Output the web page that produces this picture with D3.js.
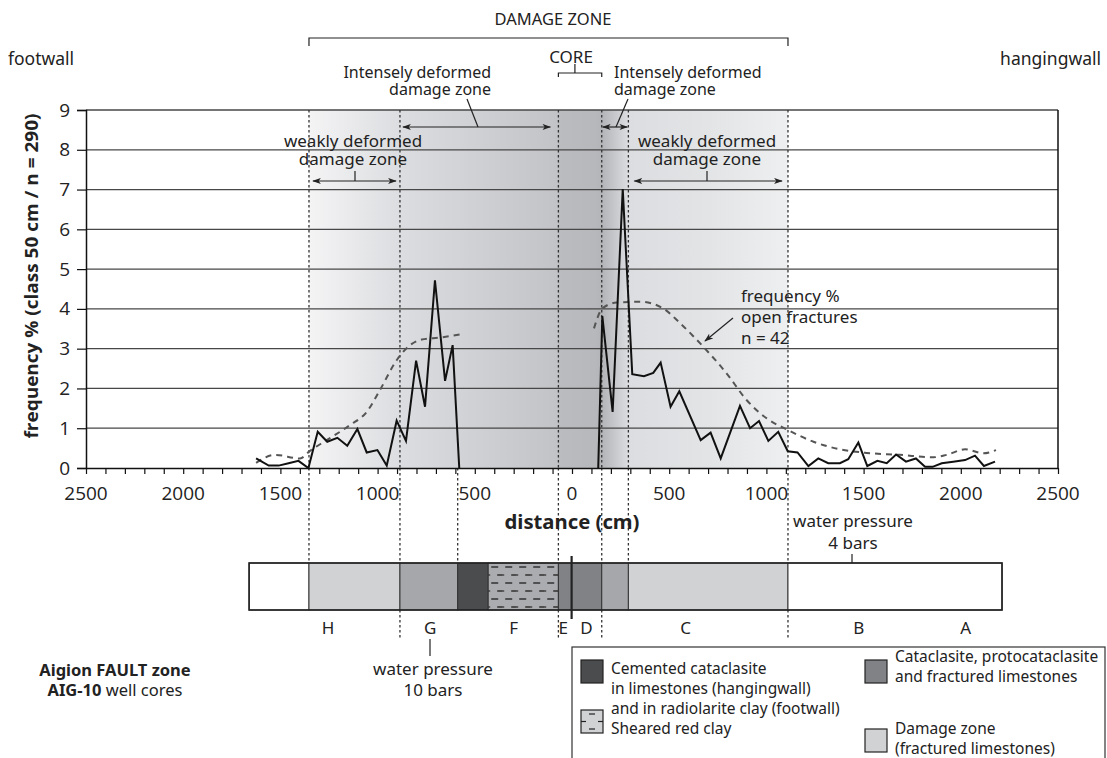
<!DOCTYPE html>
<html>
<head>
<meta charset="utf-8">
<script src="https://cdn.jsdelivr.net/npm/d3@7"></script>
<style>
  html, body { margin: 0; padding: 0; background: #fff; }
  svg { display: block; }
  text { font-family: "Noto Sans", "Open Sans", sans-serif; fill: #222; }
</style>
</head>
<body>
<svg id="chart" width="1107" height="758"></svg>
<script>
// ---------- DATA ----------
// fracture frequency (solid), footwall side (negative = footwall distance in cm)
const solidLeftDist = [-1625,-1560,-1509,-1458,-1407,-1356,-1308,-1259,-1207,-1156,-1104,-1056,-1001,-953,-902,-854,-802,-756,-705,-653,-614,-580];
const solidLeftVal  = [0.24,0.06,0.06,0.12,0.18,0,0.91,0.66,0.76,0.56,0.98,0.39,0.45,0.06,1.19,0.68,2.70,1.54,4.72,2.19,3.09,0];
// fracture frequency (solid), hangingwall side
const solidRightDist = [135,156,209,261,310,370,418,456,507,552,662,713,765,864,916,962,1010,1061,1110,1160,1216,1267,1318,1378,1421,1473,1519,1571,1619,1667,1718,1769,1816,1855,1902,1961,2022,2073,2119,2176];
const solidRightVal  = [0,3.82,1.41,7.01,2.36,2.31,2.39,2.65,1.54,1.93,0.70,0.89,0.24,1.56,1.00,1.18,0.68,0.91,0.42,0.39,0.05,0.24,0.12,0.12,0.22,0.64,0.05,0.18,0.12,0.34,0.16,0.24,0.03,0.03,0.12,0.16,0.20,0.31,0.05,0.16];
// open fractures frequency (dashed)
const dashLeftDist = [-1625,-1528,-1399,-1348,-1262,-1142,-1056,-988,-902,-833,-773,-679,-562];
const dashLeftVal  = [0.13,0.33,0.24,0.43,0.70,1.08,1.41,1.96,2.71,3.09,3.23,3.28,3.37];
const dashRightDist = [113,156,230,350,470,556,675,795,898,1001,1113,1242,1378,1516,1687,1859,1927,2022,2116,2181];
const dashRightVal  = [3.51,4.01,4.16,4.18,4.01,3.64,3.05,2.38,1.71,1.25,0.95,0.66,0.47,0.38,0.33,0.27,0.33,0.47,0.37,0.45];

const yTicks = [0,1,2,3,4,5,6,7,8,9];
const xLabelTicks = [-2500,-2000,-1500,-1000,-500,0,500,1000,1500,2000,2500];

// zone boundaries (cm) used for the shaded areas, dotted lines and the core log
const zoneEdges = [-1661,-1353,-885,-588,-431,-70,153,290,1111,2212];
const zoneKinds = ["none","damage","fract","cement","clay","catacl","fract","damage","none"];
const zoneLetters = ["H","G","F","E","D","C","B","A"];
const zoneLetterPos = [-1255,-730,-300,-45,75,585,1475,2025];
const dottedInPlot = [-1353,-885,-70,153,290,1111];
const dottedBelowAxis = [-1353,-885,-588,-70,153,290,1111];
const dottedBelowLog = [-885,-70,153,1111];
const faultPlane = -2;

// ---------- SETUP ----------
const svg = d3.select("#chart");
const X0 = 86, X1 = 1058, YT = 110, YB = 468;
const x = d3.scaleLinear().domain([-2500, 2500]).range([X0, X1]);
const y = d3.scaleLinear().domain([0, 9]).range([YB, YT]);

const colors = { none: "#ffffff", damage: "#d1d2d4", fract: "#a6a7aa", cement: "#4b4c4e", clay: "#abacaf", catacl: "#808285" };

const defs = svg.append("defs");
const g0 = x(-1353), g1 = x(1111);
const grad = defs.append("linearGradient").attr("id", "zoneGrad")
  .attr("gradientUnits", "userSpaceOnUse").attr("x1", g0).attr("x2", g1).attr("y1", 0).attr("y2", 0);
const off = d => (x(d) - g0) / (g1 - g0);
[[-1353, "#f4f4f5"], [-885, "#dcdde0"], [-70, "#c2c3c6"], [-70, "#bbbcbf"], [120, "#b7b8bb"], [153, "#b3b4b7"],
 [290, "#dcdde0"], [700, "#e3e4e6"], [1111, "#eeeff0"]].forEach(([d, c]) =>
  grad.append("stop").attr("offset", off(d)).attr("stop-color", c));

const pat = defs.append("pattern").attr("id", "clayPat").attr("patternUnits", "userSpaceOnUse")
  .attr("width", 14).attr("height", 16).attr("x", x(-431)).attr("y", 563);
pat.append("rect").attr("width", 14).attr("height", 16).attr("fill", colors.clay);
pat.append("line").attr("x1", 3).attr("x2", 10).attr("y1", 4).attr("y2", 4).attr("stroke", "#111").attr("stroke-width", 1.2);
pat.append("line").attr("x1", 9).attr("x2", 16).attr("y1", 12).attr("y2", 12).attr("stroke", "#111").attr("stroke-width", 1.2);
pat.append("line").attr("x1", -5).attr("x2", 2).attr("y1", 12).attr("y2", 12).attr("stroke", "#111").attr("stroke-width", 1.2);

defs.append("marker").attr("id", "arrowEnd").attr("viewBox", "0 -4 10 8").attr("refX", 9).attr("refY", 0)
  .attr("markerWidth", 9).attr("markerHeight", 7).attr("markerUnits", "userSpaceOnUse").attr("orient", "auto-start-reverse")
  .append("path").attr("d", "M0,-3.5L10,0L0,3.5L2.5,0Z").attr("fill", "#222");

// ---------- SHADING ----------
svg.append("rect").attr("x", g0).attr("y", YT).attr("width", g1 - g0).attr("height", YB - YT).attr("fill", "url(#zoneGrad)");

// grid lines
svg.append("g").selectAll("line").data(yTicks.filter(t => t > 0)).join("line")
  .attr("x1", X0).attr("x2", X1).attr("y1", d => y(d)).attr("y2", d => y(d))
  .attr("stroke", "#474747").attr("stroke-width", 1.3);

// dotted lines
const dot = { stroke: "#333", "stroke-width": 1.3, "stroke-dasharray": "2.5,2.5" };
function dotted(sel) { Object.entries(dot).forEach(([k, v]) => sel.attr(k, v)); return sel; }
dotted(svg.append("g").selectAll("line").data(dottedInPlot).join("line")
  .attr("x1", d => x(d)).attr("x2", d => x(d)).attr("y1", YT).attr("y2", YB));
dotted(svg.append("g").selectAll("line").data(dottedBelowAxis).join("line")
  .attr("x1", d => x(d)).attr("x2", d => x(d)).attr("y1", YB).attr("y2", 563));
dotted(svg.append("g").selectAll("line").data(dottedBelowLog).join("line")
  .attr("x1", d => x(d)).attr("x2", d => x(d)).attr("y1", 610).attr("y2", 640));

// ---------- AXES ----------
const yAxis = d3.axisLeft(y).tickValues(yTicks).tickSize(9).tickPadding(7).tickFormat(d3.format("d"));
const gy = svg.append("g").attr("transform", `translate(${X0},0)`).call(yAxis);
gy.select(".domain").attr("stroke", "#111").attr("stroke-width", 1.5);
gy.selectAll(".tick line").attr("stroke", "#111").attr("stroke-width", 1.2);
gy.selectAll(".tick text").style("font-family", "'Open Sans', sans-serif").style("font-size", "19px").attr("fill", "#222");

const xAxis = d3.axisBottom(x).tickValues(d3.range(-2500, 2501, 100)).tickSize(6).tickSizeOuter(0).tickFormat("");
const gx = svg.append("g").attr("transform", `translate(0,${YB})`).call(xAxis);
gx.select(".domain").attr("stroke", "#111").attr("stroke-width", 1.6);
gx.selectAll(".tick line").attr("stroke", "#111").attr("stroke-width", 1.2);
svg.append("g").selectAll("text").data(xLabelTicks).join("text")
  .attr("x", d => x(d)).attr("y", 493).attr("text-anchor", "middle").attr("dominant-baseline", "central")
  .style("font-family", "'Open Sans', sans-serif").style("font-size", "19px").text(d => Math.abs(d));

// right frame
svg.append("line").attr("x1", X1).attr("x2", X1).attr("y1", YT).attr("y2", YB).attr("stroke", "#111").attr("stroke-width", 1.5);

// ---------- SERIES ----------
const lineLin = d3.line().x(d => x(d[0])).y(d => y(d[1]));
const lineSmooth = d3.line().x(d => x(d[0])).y(d => y(d[1])).curve(d3.curveMonotoneX);
const zip = (a, b) => a.map((v, i) => [v, b[i]]);
[zip(dashLeftDist, dashLeftVal), zip(dashRightDist, dashRightVal)].forEach(pts =>
  svg.append("path").attr("d", lineSmooth(pts)).attr("fill", "none").attr("stroke", "#555")
    .attr("stroke-width", 2).attr("stroke-dasharray", "6,5"));
[zip(solidLeftDist, solidLeftVal), zip(solidRightDist, solidRightVal)].forEach(pts =>
  svg.append("path").attr("d", lineLin(pts)).attr("fill", "none").attr("stroke", "#111")
    .attr("stroke-width", 2).attr("stroke-linejoin", "miter"));

// ---------- ANNOTATIONS ----------
function txt(str, px, py, anchor, size, weight) {
  return svg.append("text").attr("x", px).attr("y", py).attr("text-anchor", anchor || "middle")
    .attr("dominant-baseline", "central").style("font-size", (size || 16) + "px")
    .style("font-weight", weight || "normal").text(str);
}
function seg(x1, y1, x2, y2, w) {
  return svg.append("line").attr("x1", x1).attr("y1", y1).attr("x2", x2).attr("y2", y2)
    .attr("stroke", "#222").attr("stroke-width", w || 1.2);
}
function dblArrow(xa, xb, yy) {
  seg(xa, yy, xb, yy).attr("marker-start", "url(#arrowEnd)").attr("marker-end", "url(#arrowEnd)");
}

txt("DAMAGE ZONE", 553, 18, "middle", 16.5);
svg.append("path").attr("d", `M${x(-1353)},46V38H${x(1111)}V46`).attr("fill", "none").attr("stroke", "#222").attr("stroke-width", 1.2);
txt("CORE", 571, 56, "middle", 17);
svg.append("path").attr("d", `M${x(-70)},77V73H${x(153)}V77M${x(15)},73V64`).attr("fill", "none").attr("stroke", "#222").attr("stroke-width", 1.2);
txt("footwall", 8, 58, "start", 17.5);
txt("hangingwall", 1101, 58, "end", 17.5);

txt("Intensely deformed", 491, 72, "end", 16);
txt("damage zone", 491, 89, "end", 16);
txt("Intensely deformed", 614, 72, "start", 16);
txt("damage zone", 614, 89, "start", 16);
seg(467, 99, 478, 127);
dblArrow(403, x(-70) - 8, 127);
seg(628, 99, 616, 127);
dblArrow(x(153) + 1, x(290) - 1, 127);

txt("weakly deformed", 353, 140, "middle", 17);
txt("damage zone", 353, 158, "middle", 17);
dblArrow(x(-1353) + 4, x(-885) - 4, 181);
seg(355, 171, 355, 181);
txt("weakly deformed", 707, 140, "middle", 17);
txt("damage zone", 707, 158, "middle", 17);
dblArrow(x(290) + 6, x(1111) - 6, 181);
seg(707, 171, 707, 181);

txt("frequency %", 741, 295, "start", 17);
txt("open fractures", 741, 316, "start", 17);
txt("n = 42", 741, 337, "start", 17);
seg(733, 318, 705, 341).attr("marker-end", "url(#arrowEnd)");

svg.append("text").attr("transform", "translate(31,276) rotate(-90)").attr("text-anchor", "middle")
  .attr("dominant-baseline", "central").style("font-size", "18px").style("font-weight", "bold")
  .style("font-family", "'Open Sans', sans-serif")
  .attr("textLength", 325).attr("lengthAdjust", "spacingAndGlyphs")
  .text("frequency % (class 50 cm / n = 290)");
txt("distance (cm)", 572, 522, "middle", 19, "bold").attr("textLength", 135).attr("lengthAdjust", "spacingAndGlyphs");

// ---------- CORE LOG ----------
const LOG_T = 563, LOG_B = 610;
svg.append("g").selectAll("rect").data(zoneKinds).join("rect")
  .attr("x", (d, i) => x(zoneEdges[i])).attr("width", (d, i) => x(zoneEdges[i + 1]) - x(zoneEdges[i]))
  .attr("y", LOG_T).attr("height", LOG_B - LOG_T)
  .attr("fill", d => d === "clay" ? "url(#clayPat)" : colors[d]).attr("stroke", "#333").attr("stroke-width", 1);
svg.append("rect").attr("x", x(zoneEdges[0])).attr("y", LOG_T).attr("width", x(zoneEdges[zoneEdges.length - 1]) - x(zoneEdges[0]))
  .attr("height", LOG_B - LOG_T).attr("fill", "none").attr("stroke", "#222").attr("stroke-width", 1.6);
seg(x(faultPlane), 556, x(faultPlane), 619, 2.2);
svg.append("g").selectAll("text").data(zoneLetters).join("text")
  .attr("x", (d, i) => x(zoneLetterPos[i])).attr("y", 627).attr("text-anchor", "middle").attr("dominant-baseline", "central")
  .style("font-size", "17px").text(d => d);

txt("water pressure", 853, 520, "middle", 17);
txt("4 bars", 853, 542, "middle", 17);
seg(852, 554, 852, 563);
seg(430, 639, 430, 656);
txt("water pressure", 433, 668, "middle", 17);
txt("10 bars", 433, 689, "middle", 17);

txt("Aigion FAULT zone", 115, 669, "middle", 16.5, "bold");
const t2 = svg.append("text").attr("x", 115).attr("y", 689).attr("text-anchor", "middle").attr("dominant-baseline", "central").style("font-size", "16.5px");
t2.append("tspan").style("font-weight", "bold").text("AIG-10");
t2.append("tspan").text(" well cores");

// ---------- LEGEND ----------
svg.append("rect").attr("x", 572).attr("y", 647).attr("width", 533).attr("height", 140)
  .attr("fill", "#fff").attr("stroke", "#333").attr("stroke-width", 1.2);
const legendItems = [
  { kind: "cement", lines: ["Cemented cataclasite", "in limestones (hangingwall)", "and in radiolarite clay (footwall)"] },
  { kind: "catacl", lines: ["Cataclasite, protocataclasite", "and fractured limestones"] },
  { kind: "clayIcon", lines: ["Sheared red clay"] },
  { kind: "damage", lines: ["Damage zone", "(fractured limestones)"] }
];
const legendPos = [[581, 660, 668], [865, 660, 656], [581, 710, 728], [865, 729, 728]];
legendItems.forEach((it, i) => {
  const [bx, by, ty] = legendPos[i];
  svg.append("rect").attr("x", bx).attr("y", by).attr("width", 22).attr("height", 23)
    .attr("fill", it.kind === "clayIcon" ? colors.damage : colors[it.kind]).attr("stroke", "#222").attr("stroke-width", 1.2);
  if (it.kind === "clayIcon") {
    seg(bx + 8, by + 4, bx + 14, by + 4, 1.2);
    seg(bx, by + 11.5, bx + 5, by + 11.5, 1.2);
    seg(bx + 17, by + 11.5, bx + 22, by + 11.5, 1.2);
    seg(bx + 8, by + 19, bx + 14, by + 19, 1.2);
  }
  it.lines.forEach((l, j) => txt(l, bx + 30, ty + j * 20, "start", 15.5));
});
</script>
</body>
</html>
